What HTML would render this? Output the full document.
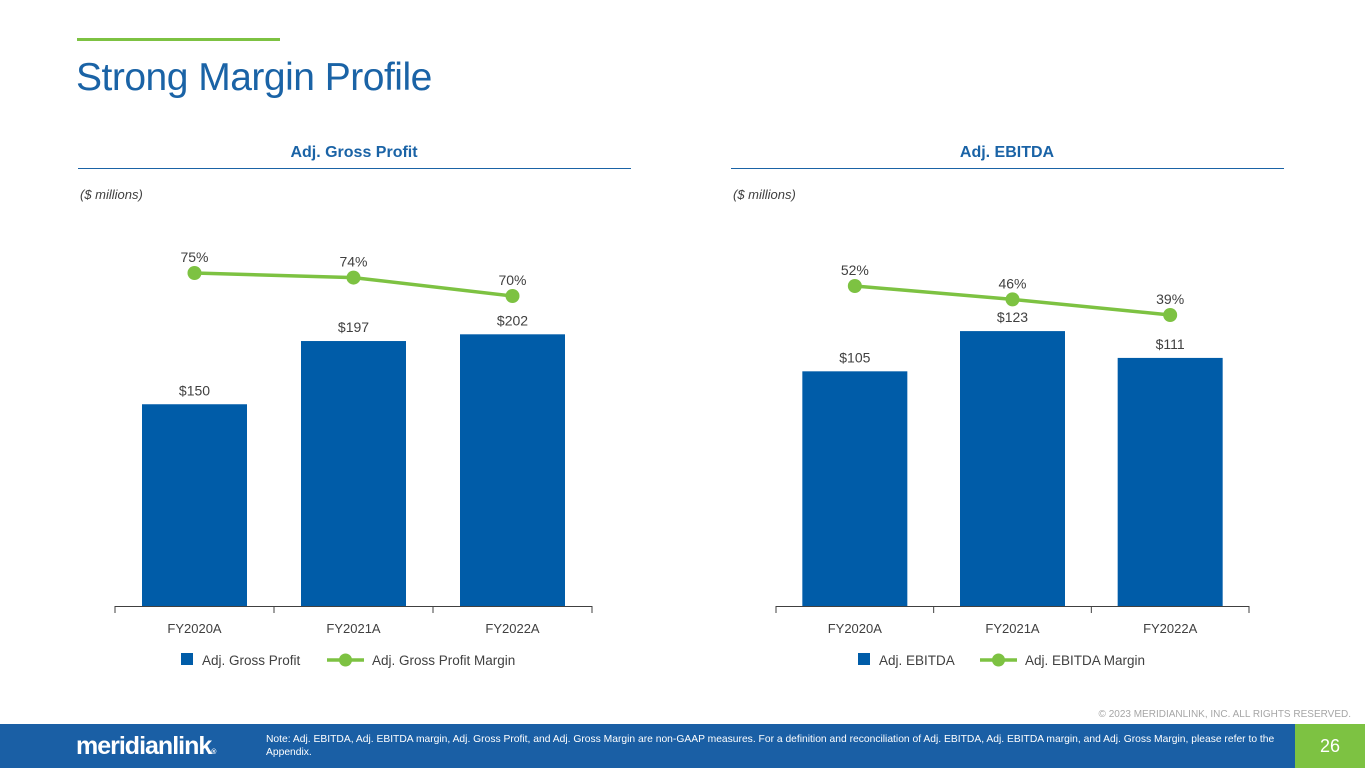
<!DOCTYPE html>
<html><head><meta charset="utf-8"><style>
body{margin:0;width:1365px;height:768px;position:relative;background:#fff;font-family:"Liberation Sans",sans-serif;overflow:hidden}
.abs{position:absolute}
</style></head><body>
<div class="abs" style="left:77px;top:38px;width:203px;height:3px;background:#7dc242"></div>
<div class="abs" style="left:76px;top:56px;font-size:39px;color:#1a63a6;letter-spacing:-0.5px">Strong Margin Profile</div>
<svg id="svg" class="abs" style="left:0;top:0" width="1365" height="724"></svg>
<div class="abs" style="right:14px;top:709px;font-size:10px;color:#a6a6a6">© 2023 MERIDIANLINK, INC. ALL RIGHTS RESERVED.</div>
<div class="abs" style="left:0;top:724px;width:1365px;height:44px;background:#1a5fa5">
 <div class="abs" style="left:76px;top:8px;font-size:25px;font-weight:bold;color:#fff;letter-spacing:-1px">meridianlink<span style="font-size:7px">®</span></div>
 <div class="abs" style="left:266px;top:9px;width:1010px;font-size:10.3px;line-height:13px;color:#fff">Note: Adj. EBITDA, Adj. EBITDA margin, Adj. Gross Profit, and Adj. Gross Margin are non-GAAP measures. For a definition and reconciliation of Adj. EBITDA, Adj. EBITDA margin, and Adj. Gross Margin, please refer to the Appendix.</div>
 <div class="abs" style="left:1295px;top:0;width:70px;height:44px;background:#7dc242;color:#fff;font-size:18px;text-align:center;line-height:44px">26</div>
</div>
<script>
const categories=["FY2020A","FY2021A","FY2022A"];
const gpValues=[150,197,202];
const gpMargins=[75,74,70];
const ebValues=[105,123,111];
const ebMargins=[52,46,39];
const svg=document.getElementById('svg');
const NS='http://www.w3.org/2000/svg';
function mk(t,a,txt){const e=document.createElementNS(NS,t);for(const k in a)e.setAttribute(k,a[k]);if(txt!=null)e.textContent=txt;svg.appendChild(e);return e;}
function chart(o){
 const base=606,cw=(o.x1-o.x0)/3;
 let t=mk('text',{x:o.cx,y:157,'text-anchor':'middle','font-size':16,'font-weight':'bold',fill:'#1a63a6'},o.title);
 
 let l=mk('line',{x1:o.hx0,x2:o.hx0+553,y1:168.5,y2:168.5,stroke:'#1a63a6','stroke-width':1});
 
 t=mk('text',{x:o.hx0+2,y:199,'font-size':13,'font-style':'italic',fill:'#404040'},'($ millions)');
 
 l=mk('line',{x1:o.x0,x2:o.x1,y1:base+0.5,y2:base+0.5,stroke:'#404040'});
 
 for(let i=0;i<=3;i++){const tk=mk('line',{x1:o.x0+i*cw,x2:o.x0+i*cw,y1:base,y2:base+7,stroke:'#404040'});}
 const pts=[];
 categories.forEach((c,i)=>{
  const cx=o.x0+cw*(i+0.5),h=o.vals[i]*o.k,bw=105;
  const r=mk('rect',{x:cx-bw/2,y:base-h,width:bw,height:h,fill:'#005ca8'});
  
  let tl=mk('text',{x:cx,y:base-h-9,'text-anchor':'middle','font-size':14,fill:'#404040'},'$'+o.vals[i]);
  
  tl=mk('text',{x:cx,y:633,'text-anchor':'middle','font-size':13,fill:'#404040'},c);
  
  pts.push([cx,o.my(o.margins[i])]);
 });
 const pl=mk('polyline',{points:pts.map(p=>p.join(',')).join(' '),fill:'none',stroke:'#7dc242','stroke-width':3.5});
 
 pts.forEach((p,i)=>{
  const c=mk('circle',{cx:p[0],cy:p[1],r:7,fill:'#7dc242'});
  
  const tl=mk('text',{x:p[0],y:p[1]-11,'text-anchor':'middle','font-size':14,fill:'#404040'},o.margins[i]+'%');
  
 });
 const lx=o.lx;
 let r=mk('rect',{x:lx,y:653,width:12,height:12,fill:'#005ca8'});
 t=mk('text',{x:lx+21,y:665,'font-size':13.5,fill:'#404040'},o.l1);
 const lx2=lx+o.l2off;
 l=mk('line',{x1:lx2,x2:lx2+37,y1:660,y2:660,stroke:'#7dc242','stroke-width':3.5});
 const c=mk('circle',{cx:lx2+18.5,cy:660,r:6.5,fill:'#7dc242'});
 t=mk('text',{x:lx2+45,y:665,'font-size':13.5,fill:'#404040'},o.l2);
}
chart({x0:115,x1:592,cx:354,hx0:78,title:'Adj. Gross Profit',vals:gpValues,margins:gpMargins,k:1.345,my:v=>273-(v-75)*4.6,lx:181,l1:'Adj. Gross Profit',l2:'Adj. Gross Profit Margin',l2off:146});
chart({x0:776,x1:1249,cx:1007,hx0:731,title:'Adj. EBITDA',vals:ebValues,margins:ebMargins,k:2.235,my:v=>286-(v-52)*2.23,lx:858,l1:'Adj. EBITDA',l2:'Adj. EBITDA Margin',l2off:122});
</script>
</body></html>
